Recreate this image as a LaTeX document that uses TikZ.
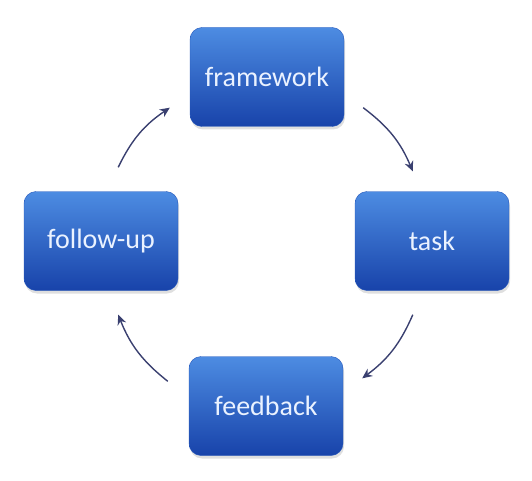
\documentclass[tikz,border=0pt]{standalone}
\usepackage{fontspec}
\setmainfont{Carlito}
\usetikzlibrary{arrows.meta,shadows}
\definecolor{boxtop}{HTML}{4D8CE2}
\definecolor{boxbot}{HTML}{1843AA}
\definecolor{boxedge}{HTML}{2456BA}
\definecolor{arrink}{HTML}{3A4070}
\definecolor{txtlight}{HTML}{EAF2FF}

\begin{document}
\begin{tikzpicture}[x=1pt, y=1pt,
      stage/.style={rounded corners=12pt, draw=boxedge, top color=boxtop, bottom color=boxbot,
                    minimum width=154pt, minimum height=99pt, inner sep=0pt,
                    text=txtlight, font=\fontsize{28}{32}\selectfont,
                    drop shadow={opacity=0.25, shadow xshift=1pt, shadow yshift=-3pt}},
      arr/.style={-{Stealth[length=10pt, width=9pt]}, arrink, line width=1.4pt}]
    \useasboundingbox (0,0) rectangle (532,480);
    \node[stage] (fw) at (267,403) {framework};
    \node[stage] (task) at (432,239) {task};
    \node[stage] (fb) at (266,74) {feedback};
    \node[stage] (fu) at (101,239) {follow-up};
    \draw[arr] ([shift={(19,19)}]fw.south east) to[bend left=15] ([shift={(58,20)}]task.north west);
    \draw[arr] ([shift={(58,-24)}]task.south west) to[bend left=15] ([shift={(19,-22)}]fb.north east);
    \draw[arr] ([shift={(-21,-25)}]fb.north west) to[bend left=15] ([shift={(-60,-24)}]fu.south east);
    \draw[arr] ([shift={(-60,24)}]fu.north east) to[bend left=15] ([shift={(-20,19)}]fw.south west);
  \end{tikzpicture}
\end{document}
